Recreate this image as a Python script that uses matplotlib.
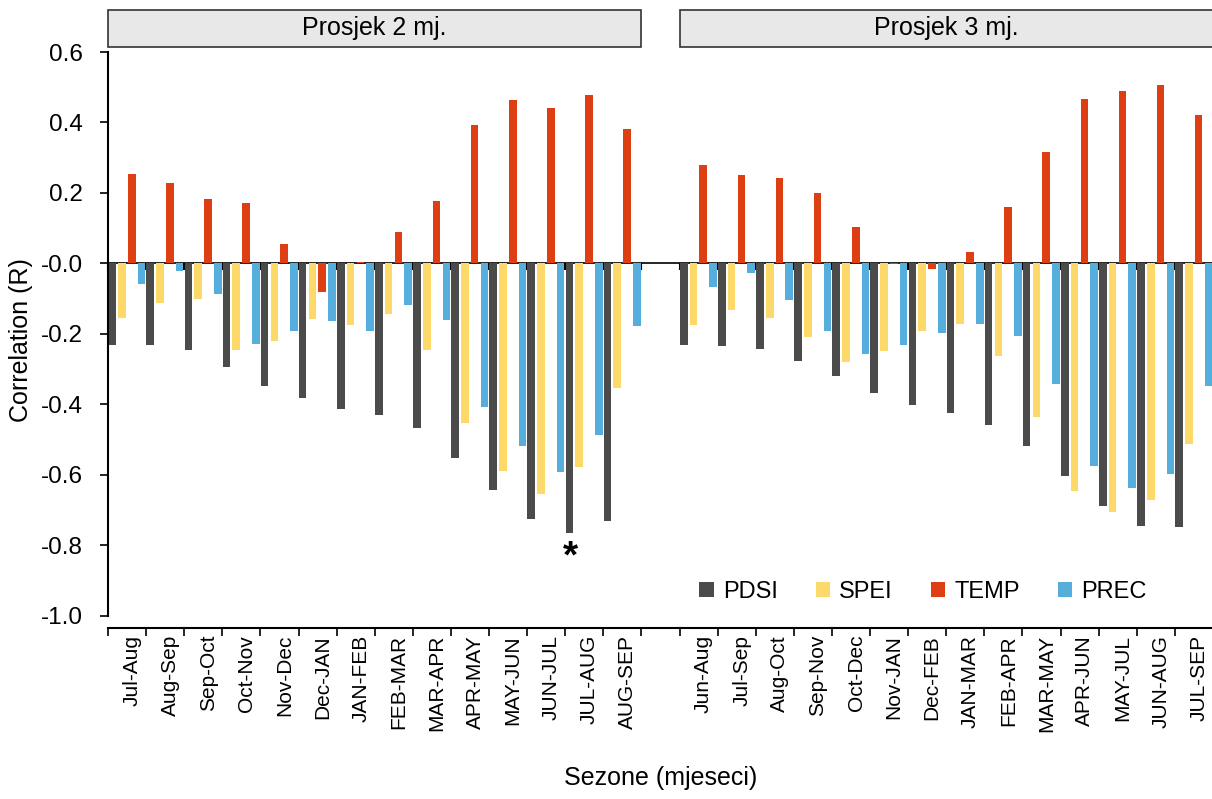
import numpy as np
import matplotlib
matplotlib.use('Agg')
import matplotlib.pyplot as plt
import matplotlib.transforms as mtransforms
from matplotlib.patches import Rectangle

plt.rcParams['font.family'] = ['Liberation Sans', 'DejaVu Sans']
plt.rcParams['axes.unicode_minus'] = False

# seasons, 2-month and 3-month averages
cats2 = ['Jul-Aug', 'Aug-Sep', 'Sep-Oct', 'Oct-Nov', 'Nov-Dec', 'Dec-JAN', 'JAN-FEB',
         'FEB-MAR', 'MAR-APR', 'APR-MAY', 'MAY-JUN', 'JUN-JUL', 'JUL-AUG', 'AUG-SEP']
cats3 = ['Jun-Aug', 'Jul-Sep', 'Aug-Oct', 'Sep-Nov', 'Oct-Dec', 'Nov-JAN', 'Dec-FEB',
         'JAN-MAR', 'FEB-APR', 'MAR-MAY', 'APR-JUN', 'MAY-JUL', 'JUN-AUG', 'JUL-SEP']

pdsi2 = [-0.233, -0.232, -0.246, -0.294, -0.348, -0.383, -0.412, -0.430, -0.468, -0.553, -0.642, -0.725, -0.764, -0.731]
spei2 = [-0.154, -0.113, -0.102, -0.245, -0.221, -0.157, -0.176, -0.143, -0.246, -0.452, -0.588, -0.654, -0.579, -0.353]
temp2 = [0.254, 0.228, 0.184, 0.170, 0.055, -0.082, 0.005, 0.089, 0.176, 0.392, 0.465, 0.442, 0.477, 0.381]
prec2 = [-0.058, -0.023, -0.087, -0.229, -0.191, -0.163, -0.191, -0.119, -0.161, -0.408, -0.517, -0.593, -0.487, -0.178]

pdsi3 = [-0.232, -0.234, -0.243, -0.276, -0.321, -0.369, -0.401, -0.425, -0.458, -0.519, -0.603, -0.690, -0.745, -0.748]
spei3 = [-0.175, -0.131, -0.154, -0.208, -0.279, -0.249, -0.191, -0.173, -0.264, -0.435, -0.647, -0.705, -0.672, -0.512]
temp3 = [0.278, 0.252, 0.241, 0.199, 0.104, -0.003, -0.016, 0.031, 0.161, 0.317, 0.467, 0.489, 0.505, 0.422]
prec3 = [-0.068, -0.026, -0.103, -0.192, -0.258, -0.231, -0.197, -0.171, -0.205, -0.343, -0.575, -0.638, -0.598, -0.348]

names = ['PDSI', 'SPEI', 'TEMP', 'PREC']
colors = ['#4b4b4b', '#fdd96a', '#de3f12', '#55aedb']
vals2 = [pdsi2, spei2, temp2, prec2]
vals3 = [pdsi3, spei3, temp3, prec3]

fig = plt.figure(figsize=(12.12, 7.99), dpi=100)
ax = fig.add_axes([108 / 1212, 171 / 799, 1105 / 1212, 576 / 799])

pos2 = np.arange(len(cats2))
pos3 = np.arange(len(cats3)) + len(cats2) + 1   # one empty slot between the panels
pos = np.concatenate([pos2, pos3])

width = 0.2
step = 0.257
for k in range(4):
    off = (k - 1.5) * step - 0.005
    ax.bar(pos + off, list(vals2[k]) + list(vals3[k]), width, color=colors[k],
           label=names[k], zorder=2)

ymin, ymax = -1.035, 0.6
ax.set_xlim(-0.5, pos3[-1] + 0.5)
ax.set_ylim(ymin, ymax)

for s in ['top', 'right']:
    ax.spines[s].set_visible(False)
ax.spines['left'].set_bounds(-1.0, 0.6)
ax.spines['left'].set_linewidth(1.5)
ax.spines['bottom'].set_linewidth(1.5)

yt = np.arange(-1.0, 0.61, 0.2)
ax.set_yticks(yt)
ax.set_yticklabels(['%.1f' % v for v in yt])
ax.tick_params(axis='y', direction='out', length=6, width=1.2, pad=12, labelsize=17.5)

bounds = np.concatenate([pos2 - 0.5, [pos2[-1] + 0.5], pos3 - 0.5, [pos3[-1] + 0.5]])
ax.set_xticks(bounds)
ax.set_xticklabels([''] * len(bounds))
ax.set_xticks(pos, minor=True)
ax.set_xticklabels(cats2 + cats3, minor=True, rotation=90)
ax.tick_params(axis='x', which='major', direction='out', length=6, width=1.2)
ax.tick_params(axis='x', which='minor', length=0, pad=5, labelsize=15)
shift = mtransforms.ScaledTranslation(5 / 100, 0, fig.dpi_scale_trans)
for lab in ax.get_xticklabels(minor=True):
    lab.set_transform(lab.get_transform() + shift)

# zero line with small ticks at the category borders
zero_frac = (0 - ymin) / (ymax - ymin)
sec = ax.secondary_xaxis(zero_frac)
sec.set_xticks(bounds)
sec.tick_params(direction='in', length=5, width=1.5, labeltop=False, labelbottom=False)
sec.spines['top'].set_linewidth(1.2)
sec.spines['bottom'].set_linewidth(1.2)

ax.set_ylabel('Correlation (R)', fontsize=18, labelpad=6)
ax.set_xlabel('Sezone (mjeseci)', fontsize=18)
ax.xaxis.set_label_coords(0.5, (628 - 778) / 576)
ax.xaxis.label.set_va('center')

# facet strips
trans = mtransforms.blended_transform_factory(ax.transData, ax.transAxes)
for lo, hi, txt in [(pos2[0] - 0.5, pos2[-1] + 0.5, 'Prosjek 2 mj.'),
                    (pos3[0] - 0.5, pos3[-1] + 0.5, 'Prosjek 3 mj.')]:
    ax.add_patch(Rectangle((lo, 1 + 5 / 576), hi - lo, 37 / 576, transform=trans,
                           facecolor='#e8e8e8', edgecolor='#333333', lw=1.2, clip_on=False))
    ax.text((lo + hi) / 2, 1 + 24 / 576, txt, transform=trans, ha='center', va='center',
            fontsize=18)

# significant correlation marker
ax.annotate('*', xy=(pos2[12] - 1.5 * step - 0.005, pdsi2[12]), xytext=(1, -25),
            textcoords='offset points', ha='center', va='baseline', fontsize=28,
            fontweight='bold')

ax.legend(ncol=4, loc='center', bbox_to_anchor=(923 / 1212, 1 - 592 / 799),
          bbox_transform=fig.transFigure, frameon=False, fontsize=17,
          handlelength=0.6, handleheight=0.6, handletextpad=0.4,
          columnspacing=1.6, borderpad=0)

fig.savefig('out.png', dpi=100)
